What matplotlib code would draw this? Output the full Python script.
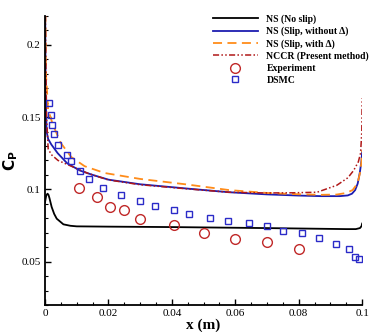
import matplotlib.pyplot as plt
from matplotlib.ticker import MultipleLocator

# NS (No slip)
ns_noslip_x = [0, 0.0002, 0.0004, 0.0008, 0.0011, 0.0014, 0.0021, 0.0029, 0.0037, 0.0058, 0.008, 0.01,
               0.02, 0.04, 0.07, 0.095, 0.098, 0.0993, 0.0998, 0.1]
ns_noslip_y = [0.091, 0.0935, 0.0958, 0.097, 0.0962, 0.094, 0.0878, 0.083, 0.0797, 0.0758, 0.0748, 0.0744,
               0.0742, 0.0739, 0.0732, 0.0725, 0.0725, 0.0732, 0.0745, 0.0763]

# NS (Slip, without delta)
ns_slip_x = [0, 0.0002, 0.0005, 0.001, 0.002, 0.004, 0.007, 0.011, 0.015, 0.02, 0.03, 0.045, 0.058,
             0.07, 0.08, 0.087, 0.093, 0.0955, 0.0968, 0.0978, 0.0986, 0.0993, 0.0998, 0.1]
ns_slip_y = [0.25, 0.17, 0.14, 0.1348, 0.131, 0.125, 0.118, 0.113, 0.110, 0.1067, 0.1035, 0.1005, 0.098,
             0.0965, 0.0957, 0.0953, 0.0953, 0.0958, 0.097, 0.0995, 0.104, 0.112, 0.12, 0.126]

# NS (Slip, with delta)
ns_delta_x = [0, 0.0003, 0.001, 0.0025, 0.005, 0.0083, 0.0125, 0.0188, 0.03, 0.045, 0.058, 0.07, 0.08,
              0.087, 0.092, 0.095, 0.097, 0.0985, 0.0993, 0.0998, 0.1]
ns_delta_y = [0.25, 0.18, 0.155, 0.1446, 0.132, 0.1223, 0.116, 0.1113, 0.1072, 0.1033, 0.0995, 0.0975, 0.0966,
              0.0962, 0.0964, 0.0975, 0.0995, 0.104, 0.111, 0.119, 0.127]

# NCCR (Present method)
nccr_x = [0, 0.0002, 0.0005, 0.001, 0.002, 0.0041, 0.0083, 0.0136, 0.02, 0.03, 0.045, 0.058, 0.07, 0.078,
          0.0858, 0.092, 0.0955, 0.0973, 0.0988, 0.0995, 0.0999, 0.1]
nccr_y = [0.25, 0.2, 0.15, 0.128, 0.124, 0.120, 0.116, 0.111, 0.1065, 0.1032, 0.1003, 0.098, 0.0975, 0.0976,
          0.098, 0.1028, 0.108, 0.113, 0.119, 0.125, 0.14, 0.163]

# Experiment
exp_x = [0.0107, 0.0163, 0.0204, 0.025, 0.030, 0.0406, 0.050, 0.060, 0.070, 0.080]
exp_y = [0.101, 0.0945, 0.088, 0.086, 0.0797, 0.0753, 0.070, 0.0654, 0.0636, 0.0585]

# DSMC
dsmc_x = [0.0013, 0.0018, 0.0023, 0.0029, 0.0042, 0.0068, 0.0081, 0.011, 0.014, 0.0182, 0.024, 0.0298,
          0.0348, 0.0406, 0.0454, 0.0521, 0.0576, 0.0643, 0.070, 0.0751, 0.0811, 0.0864, 0.0918, 0.0957,
          0.0977, 0.0991]
dsmc_y = [0.1597, 0.1516, 0.1442, 0.1385, 0.131, 0.124, 0.1195, 0.1126, 0.1074, 0.1012, 0.0958, 0.0917,
          0.0885, 0.0855, 0.0832, 0.0802, 0.078, 0.0765, 0.0744, 0.0714, 0.070, 0.0661, 0.0624, 0.0585,
          0.053, 0.0516]

plt.rcParams['font.family'] = 'Liberation Serif'

fig = plt.figure(figsize=(3.74, 3.32), dpi=100)
ax = fig.add_axes([0.1203, 0.0813, 0.848, 0.871])

ax.plot(ns_noslip_x, ns_noslip_y, color='black', lw=1.3, label='NS (No slip)')
ax.plot(ns_slip_x, ns_slip_y, color='#1c1cb0', lw=1.3, label='NS (Slip, without \u0394)')
ax.plot(ns_delta_x, ns_delta_y, color='#ff8c1a', lw=1.3, dashes=(5, 3), label='NS (Slip, with \u0394)')
ax.plot(nccr_x, nccr_y, color='#b01818', lw=1.1, dashes=(4, 1.5, 1, 1.5, 1, 1.5), label='NCCR (Present method)')
ax.plot(exp_x, exp_y, 'o', mfc='none', mec='#c02828', mew=1.0, ms=7, ls='none', label='Experiment')
ax.plot(dsmc_x, dsmc_y, 's', mfc='none', mec='#2b2bc8', mew=1.0, ms=5, ls='none', label='DSMC')

ax.set_xlim(0, 0.1)
ax.set_ylim(0.02, 0.22)
ax.set_xticks([0, 0.02, 0.04, 0.06, 0.08, 0.1])
ax.set_xticklabels(['0', '0.02', '0.04', '0.06', '0.08', '0.1'])
ax.set_yticks([0.05, 0.1, 0.15, 0.2])
ax.set_yticklabels(['0.05', '0.1', '0.15', '0.2'])
ax.xaxis.set_minor_locator(MultipleLocator(0.005))
ax.yaxis.set_minor_locator(MultipleLocator(0.01))
ax.tick_params(which='major', direction='in', length=4, width=1, labelsize=8, pad=3)
ax.tick_params(which='minor', direction='in', length=2, width=0.8)
ax.spines['top'].set_visible(False)
ax.spines['right'].set_visible(False)
for s in ['left', 'bottom']:
    ax.spines[s].set_linewidth(1.3)

ax.set_xlabel('x (m)', fontsize=11, fontweight='bold', labelpad=0)
ax.set_ylabel(r'$\mathbf{C_P}$', fontsize=11, labelpad=1)

ax.legend(loc='upper left', bbox_to_anchor=(0.517, 1.019), frameon=False, handlelength=4.6,
          handletextpad=0.9, labelspacing=0.29, borderaxespad=0,
          prop={'weight': 'bold', 'size': 7})

fig.savefig('out.png', dpi=100)
